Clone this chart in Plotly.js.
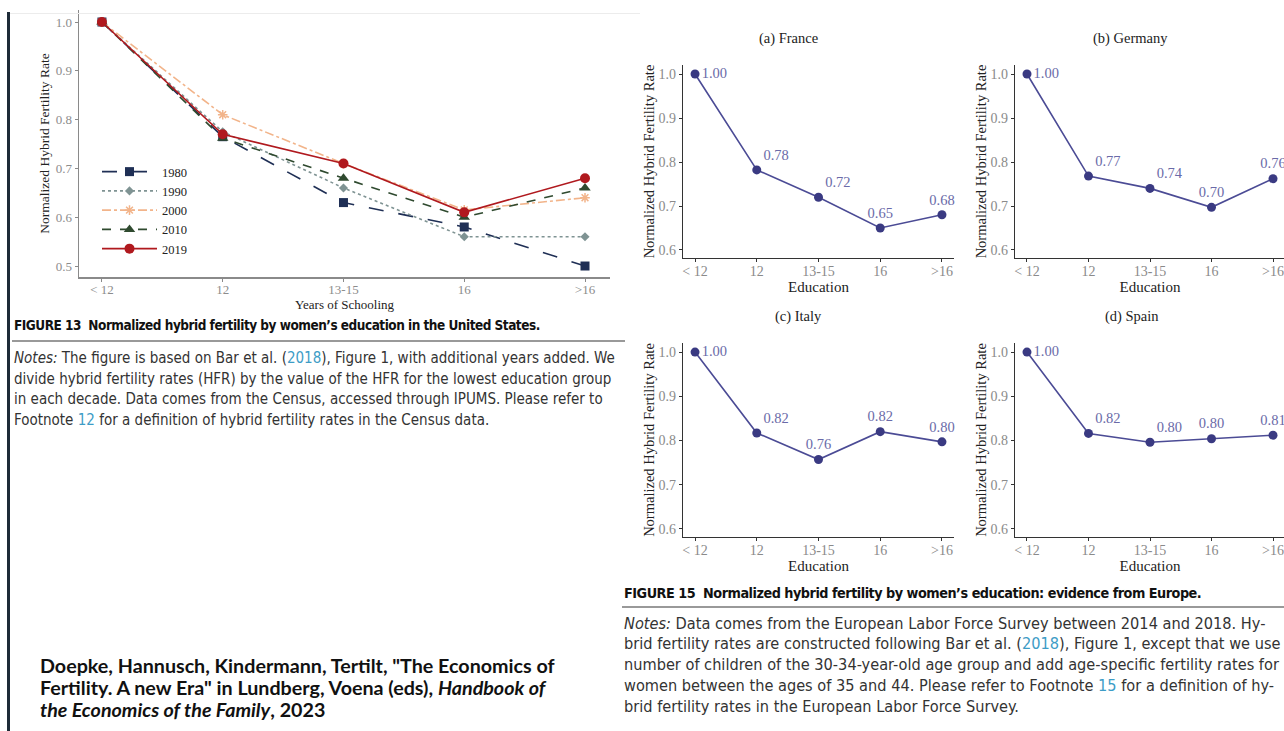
<!DOCTYPE html>
<html><head><meta charset="utf-8">
<script src="https://cdn.plot.ly/plotly-3.0.1.min.js"></script>
<style>html,body{margin:0;padding:0;overflow:hidden;background:#fff;width:1284px;height:731px}#chart{width:1300px;height:731px}</style>
</head><body><div id="chart"></div>
<script>
// ---------- data ----------
const usCategories = ['< 12', '12', '13-15', '16', '>16'];
const usYears = ['1980', '1990', '2000', '2010', '2019'];
const hfr1980 = [1.00, 0.765, 0.63, 0.58, 0.50];
const hfr1990 = [1.00, 0.775, 0.66, 0.56, 0.56];
const hfr2000 = [1.00, 0.81, 0.71, 0.615, 0.64];
const hfr2010 = [1.00, 0.762, 0.68, 0.60, 0.66];
const hfr2019 = [1.00, 0.77, 0.71, 0.61, 0.68];

const euCategories = ['< 12', '12', '13-15', '16', '>16'];
const countries = ['(a) France', '(b) Germany', '(c) Italy', '(d) Spain'];
const france = [1.00, 0.782, 0.72, 0.65, 0.68];
const germany = [1.00, 0.768, 0.74, 0.697, 0.762];
const italy = [1.00, 0.817, 0.757, 0.82, 0.797];
const spain = [1.00, 0.816, 0.796, 0.804, 0.812];

const usTicks = [0.5, 0.6, 0.7, 0.8, 0.9, 1.0];
const euTicks = [0.6, 0.7, 0.8, 0.9, 1.0];

// ---------- geometry helpers ----------
const W = 1300, H = 731;
const px = x => x / W, py = y => 1 - y / H;
const xdom = (a, b) => [a / W, b / W];
const ydom = (t, b) => [1 - b / H, 1 - t / H];

const SERIF = 'Liberation Serif, Times New Roman, serif';
const NARROW = 'Liberation Sans Narrow, Arial Narrow, DejaVu Sans Condensed, sans-serif';
const SANS = 'Lato, Open Sans, sans-serif';

// ---------- US traces ----------
const usSeries = [hfr1980, hfr1990, hfr2000, hfr2010, hfr2019];
const usStyle = [
  {color: '#1f2f55', dash: 'longdash', symbol: 'square', size: 9},
  {color: '#7f9393', dash: 'dot', symbol: 'diamond', size: 7},
  {color: '#f2b48a', dash: 'dashdot', symbol: 'asterisk-open', size: 8},
  {color: '#2f4a2f', dash: 'dash', symbol: 'triangle-up', size: 10},
  {color: '#b0191e', dash: 'solid', symbol: 'circle', size: 10}
];
const traces = usSeries.map((vals, i) => ({
  type: 'scatter', mode: 'lines+markers', name: usYears[i],
  x: usCategories, y: vals, xaxis: 'x', yaxis: 'y',
  line: {color: usStyle[i].color, dash: usStyle[i].dash, width: 1.6},
  marker: {symbol: usStyle[i].symbol, size: usStyle[i].size, color: usStyle[i].color,
           line: {color: usStyle[i].color, width: usStyle[i].symbol === 'asterisk-open' ? 1.5 : 0}},
  cliponaxis: false
}));

// ---------- Europe traces ----------
const euSeries = [france, germany, italy, spain];
const euTextPos = [
  ['middle right', 'top right', 'top right', 'top center', 'top center'],
  ['middle right', 'top right', 'top right', 'top center', 'top center'],
  ['middle right', 'top right', 'top center', 'top center', 'top center'],
  ['middle right', 'top right', 'top right', 'top center', 'top center']
];
euSeries.forEach((vals, i) => {
  traces.push({
    type: 'scatter', mode: 'lines+markers+text', showlegend: false,
    name: countries[i], x: euCategories, y: vals,
    xaxis: 'x' + (i + 2), yaxis: 'y' + (i + 2),
    line: {color: '#4b4b95', width: 1.6},
    marker: {color: '#3a3a82', size: 9},
    texttemplate: '%{y:.2f}', textposition: euTextPos[i],
    textfont: {family: SERIF, size: 14.5, color: '#6a6aa8'},
    cliponaxis: false
  });
});

// ---------- axes ----------
function usAxisBase() {
  return {showline: true, linecolor: '#8a8a8a', linewidth: 1.5, ticks: 'outside', ticklen: 3,
          tickcolor: '#8a8a8a', tickwidth: 1, showgrid: false, zeroline: false, fixedrange: true,
          tickfont: {family: SERIF, size: 13, color: '#8c8c8c'}};
}
function euAxisBase() {
  return {showline: true, linecolor: '#333', linewidth: 1.2, ticks: 'outside', ticklen: 3,
          tickcolor: '#333', tickwidth: 1, showgrid: false, zeroline: false, fixedrange: true,
          tickfont: {family: SERIF, size: 14, color: '#8a8a8a'}};
}

const layout = {
  width: W, height: H, margin: {l: 0, r: 0, t: 0, b: 0},
  paper_bgcolor: '#fff', plot_bgcolor: 'rgba(0,0,0,0)', showlegend: true,
  legend: {x: px(97), y: py(157), xanchor: 'left', yanchor: 'top', bgcolor: 'rgba(0,0,0,0)',
           font: {family: SERIF, size: 12.5, color: '#222'}, itemwidth: 55, tracegroupgap: 0},
  xaxis: Object.assign(usAxisBase(), {domain: xdom(79, 610), anchor: 'y', type: 'category',
    range: [-0.19, 4.207], ticklabelstandoff: -3, title: {text: 'Years of Schooling', standoff: 0,
    font: {family: SERIF, size: 13, color: '#222'}}}),
  yaxis: Object.assign(usAxisBase(), {domain: ydom(10, 277), anchor: 'x', range: [0.4775, 1.0246],
    tickvals: usTicks, tickformat: '.1f', title: {text: 'Normalized Hybrid Fertility Rate', standoff: 3,
    font: {family: SERIF, size: 13.5, color: '#222'}}}),
  annotations: [], shapes: []
};

const euDom = [
  {x: xdom(683, 954), y: ydom(65, 258)},
  {x: xdom(1015, 1285), y: ydom(65, 258)},
  {x: xdom(683, 954), y: ydom(343, 537)},
  {x: xdom(1015, 1285), y: ydom(343, 537)}
];
euDom.forEach((d, i) => {
  const n = i + 2;
  layout['xaxis' + n] = Object.assign(euAxisBase(), {domain: d.x, anchor: 'y' + n, type: 'category',
    range: [-0.195, 4.195], ticklabelstandoff: -3, title: {text: 'Education', standoff: 0,
    font: {family: SERIF, size: 15, color: '#222'}}});
  layout['yaxis' + n] = Object.assign(euAxisBase(), {domain: d.y, anchor: 'x' + n,
    range: [0.5818, 1.0205], tickvals: euTicks, tickformat: '.1f',
    title: {text: 'Normalized Hybrid Fertility Rate', standoff: 0,
    font: {family: SERIF, size: 14.5, color: '#222'}}});
});

// panel titles
const titlePos = [[788, 38], [1130, 38], [798, 316], [1132, 316]];
countries.forEach((c, i) => layout.annotations.push({
  text: c, xref: 'paper', yref: 'paper', x: px(titlePos[i][0]), y: py(titlePos[i][1]),
  xanchor: 'center', yanchor: 'middle', showarrow: false,
  font: {family: SERIF, size: 14.5, color: '#222'}
}));

function txt(s, x, y, font) {
  layout.annotations.push({text: s, xref: 'paper', yref: 'paper', x: px(x), y: py(y),
    xanchor: 'left', yanchor: 'middle', showarrow: false, align: 'left', font: font});
}
const LINK = '<span style="color:#3d9cc6">';
const TIGHT = '<span style="letter-spacing:-0.5px">';

const cap13Font = {family: NARROW, size: 13.5, color: '#111', weight: 700};
const note13Font = {family: NARROW, size: 15.0, color: '#333'};
txt(TIGHT + 'FIGURE 13  Normalized hybrid fertility by women\u2019s education in the United States.</span>', 12, 325, cap13Font);
const notes13 = [
  '<i>Notes:</i> The figure is based on Bar et al. (' + LINK + '2018</span>), Figure 1, with additional years added. We',
  'divide hybrid fertility rates (HFR) by the value of the HFR for the lowest education group',
  'in each decade. Data comes from the Census, accessed through IPUMS. Please refer to',
  'Footnote ' + LINK + '12</span> for a definition of hybrid fertility rates in the Census data.'
];
notes13.forEach((s, i) => txt(s, 12, 358 + i * 20.7, note13Font));

const cap15Font = {family: NARROW, size: 14.3, color: '#111', weight: 700};
const note15Font = {family: NARROW, size: 16.2, color: '#333'};
txt(TIGHT + 'FIGURE 15  Normalized hybrid fertility by women\u2019s education: evidence from Europe.</span>', 622, 593, cap15Font);
const notes15 = [
  '<i>Notes:</i> Data comes from the European Labor Force Survey between 2014 and 2018. Hy-',
  'brid fertility rates are constructed following Bar et al. (' + LINK + '2018</span>), Figure 1, except that we use',
  'number of children of the 30-34-year-old age group and add age-specific fertility rates for',
  'women between the ages of 35 and 44. Please refer to Footnote ' + LINK + '15</span> for a definition of hy-',
  'brid fertility rates in the European Labor Force Survey.'
];
notes15.forEach((s, i) => txt(s, 622, 623 + i * 20.8, note15Font));

const citeFont = {family: SANS, size: 19.7, color: '#111', weight: 700};
txt('Doepke, Hannusch, Kindermann, Tertilt, "The Economics of', 38, 665, citeFont);
txt('Fertility. A new Era" in Lundberg, Voena (eds), <i>Handbook of</i>', 38, 687, citeFont);
txt('<i>the Economics of the Family</i>, 2023', 38, 709, citeFont);

// separators and page decorations
layout.shapes.push(
  {type: 'line', xref: 'paper', yref: 'paper', x0: px(12), x1: px(625), y0: py(341), y1: py(341), line: {color: '#999', width: 2}},
  {type: 'line', xref: 'paper', yref: 'paper', x0: px(622), x1: px(1290), y0: py(607), y1: py(607), line: {color: '#999', width: 2}},
  {type: 'rect', xref: 'paper', yref: 'paper', x0: px(7), x1: px(10), y0: py(731), y1: py(12), line: {width: 0}, fillcolor: '#1e2b38'},
  {type: 'line', xref: 'paper', yref: 'paper', x0: px(10), x1: px(640), y0: py(13.5), y1: py(13.5), line: {color: '#ececec', width: 1}}
);

Plotly.newPlot('chart', traces, layout, {displayModeBar: false, staticPlot: true});
</script></body></html>
